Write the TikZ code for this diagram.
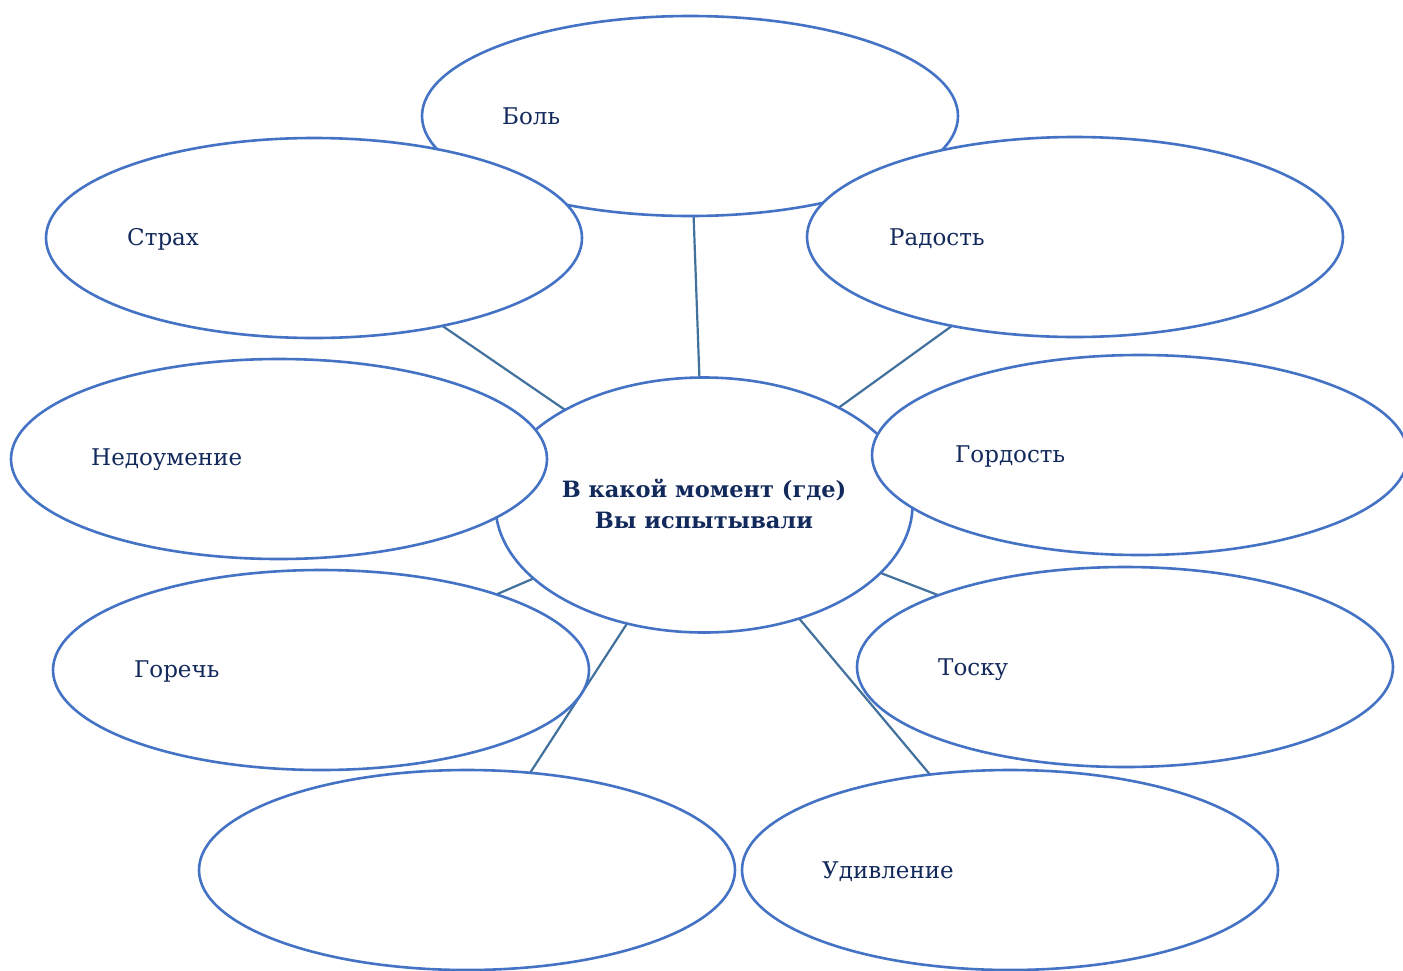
\documentclass[tikz,border=0pt]{standalone}
\usepackage{fontspec}
\setmainfont{DejaVu Serif}
\usetikzlibrary{shapes.geometric,backgrounds}
\definecolor{ebord}{HTML}{4472C4}
\definecolor{lcol}{HTML}{41719C}
\definecolor{tcol}{HTML}{12295C}
\tikzset{
  bub/.style={ellipse, draw=ebord, line width=2.6pt, fill=white, minimum width=536pt, minimum height=200pt, inner sep=0pt},
  hub/.style={ellipse, draw=ebord, line width=2.6pt, fill=white, minimum width=417pt, minimum height=255pt, inner sep=0pt},
  lbl/.style={anchor=base west, inner sep=0pt, text=tcol, font=\fontsize{23}{28}\selectfont},
  hlbl/.style={anchor=base, inner sep=0pt, text=tcol, font=\fontsize{22.5}{27}\selectfont\bfseries},
  conn/.style={draw=lcol, line width=2.2pt}
}
\begin{document}
\begin{tikzpicture}[x=1pt,y=-1pt]
\useasboundingbox (0,0) rectangle (1403,970);
\node[bub] (bol) at (690,116) {};
\node[hub] (hub) at (704,505) {};
\node[bub] (strah) at (314,238) {};
\node[bub] (rad) at (1075,237) {};
\node[bub] (nedo) at (279,459) {};
\node[bub] (gord) at (1140,455) {};
\node[bub] (gor) at (321,670) {};
\node[bub] (tosk) at (1125,667) {};
\node[bub] (empt) at (467,870) {};
\node[bub] (udiv) at (1010,870) {};
\begin{pgfonlayer}{background}
\fill[white] (0,0) rectangle (1403,970);
\draw[conn] (hub.center) -- (bol.center);
\draw[conn] (hub.center) -- (strah.center);
\draw[conn] (hub.center) -- (rad.center);
\draw[conn] (hub.center) -- (gor.center);
\draw[conn] (hub.center) -- (tosk.center);
\draw[conn] (hub.center) -- (empt.center);
\draw[conn] (hub.center) -- (udiv.center);
\end{pgfonlayer}
\node[lbl] (tbol) at (502,124) {Боль};
\node[lbl] (tstrah) at (127,245) {Страх};
\node[lbl] (trad) at (889,245) {Радость};
\node[lbl] (tnedo) at (91,465) {Недоумение};
\node[lbl] (tgord) at (955,462) {Гордость};
\node[lbl] (tgor) at (134,677) {Горечь};
\node[lbl] (ttosk) at (938,675) {Тоску};
\node[lbl] (tudiv) at (822,878) {Удивление};
\node[hlbl] (h1) at (704,497) {В какой момент (где)};
\node[hlbl] (h2) at (704,528) {Вы испытывали};
\end{tikzpicture}
\end{document}
